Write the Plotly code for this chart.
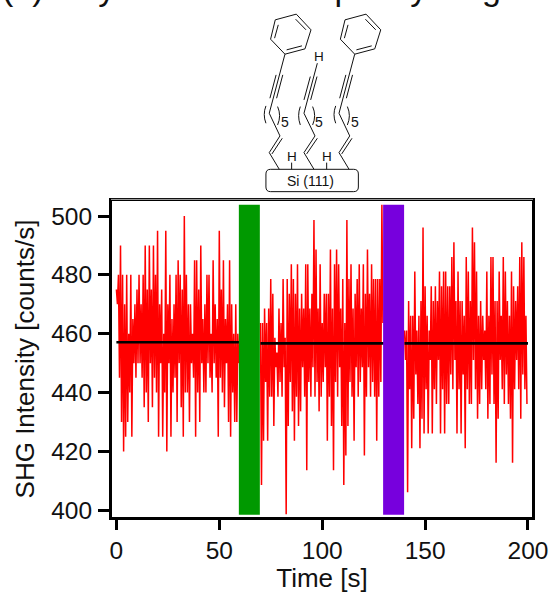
import plotly.graph_objects as go

# --- data: per second, the upper and lower reading ---
seg1_start = 0
seg1_high = [475,480,490,480,470,480,460,480,465,470,
             475,480,470,480,490,475,490,475,490,480,
             495,470,475,460,495,470,480,465,470,480,
             485,480,475,500,480,470,470,460,485,485,
             475,490,465,470,480,480,460,485,470,465,
             495,475,485,465,470,485,470,460,470,460]
seg1_low = [470,445,430,420,425,430,440,425,450,445,
            450,450,445,435,440,430,450,435,445,440,
            425,450,425,440,420,450,425,440,445,430,
            450,435,425,440,440,430,450,445,425,440,
            430,450,440,440,450,445,440,450,445,425,
            445,440,435,450,430,425,440,430,430,450]
seg2_start = 70
seg2_high = [463.6,463.6,468.6,463.6,468.6,478.6,473.6,458.6,453.6,468.6,
             463.6,478.6,458.6,478.6,473.6,483.6,478.6,473.6,483.6,468.6,
             473.6,468.6,483.6,483.6,468.6,473.6,498.6,488.6,468.6,483.6,
             463.6,473.6,473.6,473.6,488.6,468.6,483.6,488.6,483.6,468.6,
             478.6,463.6,498.6,478.6,483.6,468.6,473.6,478.6,483.6,468.6,
             483.6,473.6,488.6,473.6,483.6,478.6,478.6,478.6,478.6,503.8]
seg2_low = [408.6,423.6,443.6,423.6,438.6,438.6,428.6,448.6,438.6,443.6,
            438.6,448.6,398.6,428.6,443.6,433.6,423.6,438.6,428.6,433.6,
            448.6,438.6,413.6,443.6,438.6,448.6,438.6,443.6,433.6,438.6,
            443.6,448.6,423.6,438.6,428.6,413.6,443.6,438.6,448.6,428.6,
            408.6,418.6,428.6,443.6,438.6,423.6,448.6,438.6,443.6,448.6,
            418.6,438.6,448.6,438.6,443.6,438.6,423.6,438.6,443.6,463.6]
seg3_start = 140
seg3_high = [461.1,461.1,471.1,466.1,466.1,481.1,461.1,466.1,471.1,496.1,
             476.1,466.1,461.1,476.1,471.1,476.1,471.1,481.1,476.1,481.1,
             481.1,476.1,476.1,486.1,491.1,471.1,481.1,471.1,471.1,466.1,
             486.1,481.1,471.1,496.1,491.1,481.1,466.1,471.1,466.1,461.1,
             481.1,466.1,486.1,486.1,471.1,471.1,481.1,466.1,486.1,481.1,
             471.1,466.1,481.1,476.1,471.1,476.1,486.1,491.1,486.1,466.1]
seg3_low = [451.1,406.1,441.1,421.1,431.1,446.1,436.1,421.1,431.1,426.1,
            441.1,426.1,451.1,426.1,441.1,436.1,451.1,426.1,441.1,426.1,
            436.1,436.1,446.1,441.1,451.1,426.1,441.1,426.1,446.1,421.1,
            441.1,436.1,436.1,451.1,441.1,431.1,436.1,441.1,451.1,441.1,
            431.1,436.1,446.1,436.1,416.1,431.1,451.1,441.1,436.1,446.1,
            436.1,431.1,416.1,441.1,451.1,441.1,431.1,446.1,441.1,436.1]
mean_x = [[0, 60], [70, 130], [140, 200]]
mean_y = [457.1, 456.7, 456.7]
green_band = [59.5, 69.7]
purple_band = [129.6, 139.8]
band_y = [398.5, 503.8]
x_ticks = [0, 50, 100, 150, 200]
y_ticks = [400, 420, 440, 460, 480, 500]
x_title = "Time [s]"
y_title = "SHG Intensity [counts/s]"
page_title = "(b) Alkyne-terminated phenyl rings"

FONT = "Liberation Sans"
W, H = 550, 593
L, R, T, B = 112.3, 531.7, 201.0, 516.7

def px(x, y):
    return (x - L) / (R - L), (B - y) / (B - T)

def z(x, y):
    """Position in the molecule sketch -> paper coordinates."""
    return px(230 + x / 3, 10 + y / 3)

def path(*pts):
    return "M " + " L ".join("%.4f %.4f" % z(*p) for p in pts)

def curve(a, c, b):
    pa, pc, pb = z(*a), z(*c), z(*b)
    return "M %.4f %.4f Q %.4f %.4f %.4f %.4f" % (*pa, *pc, *pb)

fig = go.Figure()
for start, hi, lo in [(seg1_start, seg1_high, seg1_low),
                      (seg2_start, seg2_high, seg2_low),
                      (seg3_start, seg3_high, seg3_low)]:
    xs, ys = [], []
    for i, (a, b) in enumerate(zip(hi, lo)):
        xs += [start + i, start + i + 0.5]
        ys += [a, b]
    fig.add_trace(go.Scatter(x=xs, y=ys, mode="lines", showlegend=False,
                             line=dict(color="#ff0000", width=1.5)))
for xr, yv in zip(mean_x, mean_y):
    fig.add_trace(go.Scatter(x=xr, y=[yv, yv], mode="lines", showlegend=False,
                             line=dict(color="#000000", width=2.6)))

shapes = [
    dict(type="rect", xref="x", yref="y", x0=green_band[0], x1=green_band[1],
         y0=band_y[0], y1=band_y[1], fillcolor="#009900", line_width=0, layer="above"),
    dict(type="rect", xref="x", yref="y", x0=purple_band[0], x1=purple_band[1],
         y0=band_y[0], y1=band_y[1], fillcolor="#7700dd", line_width=0, layer="above"),
]
mol = []
for dx in (0, 209):
    mol.append(path((136+dx,30),(199+dx,13),(243+dx,60),(225+dx,117),(165+dx,133),(122+dx,88),(136+dx,30)))
    mol.append(path((145+dx,45),(134+dx,85)))
    mol.append(path((197+dx,28),(228+dx,60)))
    mol.append(path((170+dx,120),(216+dx,108)))
    mol.append(path((165+dx,133),(118+dx,310),(150+dx,378),(118+dx,428),(148+dx,478)))
    mol.append(path((138.5+dx,195),(120+dx,265)))
    mol.append(path((158.5+dx,195),(140+dx,265)))
    mol.append(path((126+dx,432),(157+dx,385)))
    mol.append(curve((108+dx,288),(98+dx,314),(108+dx,340)))
    mol.append(curve((143+dx,290),(155+dx,317),(143+dx,345)))
# middle chain
mol.append(path((262,160),(222,310),(255,378),(222,428),(252,478)))
mol.append(path((241,200),(222,270)))
mol.append(path((261,200),(242,270)))
mol.append(path((230,432),(262,385)))
mol.append(curve((211,290),(201,317),(211,345)))
mol.append(curve((248,290),(260,317),(248,345)))
# Si-H bonds
mol.append(path((185,458),(185,478)))
mol.append(path((290,458),(290,478)))
# surface block
x0, y0 = z(108, 478); x1, y1 = z(385, 545)
cx0, cy0 = z(122, 492); cx1, cy1 = z(371, 531)
mol.append("M %.4f %.4f L %.4f %.4f Q %.4f %.4f %.4f %.4f L %.4f %.4f Q %.4f %.4f %.4f %.4f L %.4f %.4f Q %.4f %.4f %.4f %.4f L %.4f %.4f Q %.4f %.4f %.4f %.4f Z" % (
    cx0, y0, cx1, y0, x1, y0, x1, cy0, x1, cy1, x1, y1, cx1, y1, cx0, y1, x0, y1, x0, cy1, x0, cy0, x0, y0, cx0, y0))
for p in mol:
    shapes.append(dict(type="path", xref="paper", yref="paper", path=p,
                       line=dict(color="#111111", width=1)))
# thin grey edge over the frame
gx0, gy = px(L - 1, 199.4); gx1, _ = px(R + 1, 199.4)
shapes.append(dict(type="line", xref="paper", yref="paper", x0=gx0, x1=gx1, y0=gy, y1=gy,
                   line=dict(color="#aaaaaa", width=1)))

ann = []
for txt, zx, zy, size in [("H", 268, 140, 13.5), ("H", 185, 440, 13.5), ("H", 290, 440, 13.5),
                          ("5", 165, 335, 14), ("5", 268, 335, 14), ("5", 376, 335, 14),
                          ("Si (111)", 243, 513, 14)]:
    ax, ay = z(zx, zy)
    ann.append(dict(text=txt, x=ax, y=ay, xref="paper", yref="paper", showarrow=False,
                    xanchor="center", yanchor="middle", font=dict(family=FONT, size=size, color="#111111")))
tx, ty = px(0, -12)
ann.append(dict(text=page_title, x=tx, y=ty, xref="paper", yref="paper", showarrow=False,
                xanchor="left", yanchor="middle", font=dict(family=FONT, size=34, color="#111111")))

fig.update_layout(
    width=W, height=H, autosize=False, paper_bgcolor="white", plot_bgcolor="white",
    margin=dict(l=L, r=W - R, t=T, b=H - B, pad=0, autoexpand=False),
    showlegend=False, shapes=shapes, annotations=ann,
    font=dict(family=FONT, color="#111111"),
)
fig.update_xaxes(range=[-2.14, 201.95], tickvals=x_ticks, ticks="outside", ticklen=10, tickwidth=2.5,
                 tickcolor="#000000", showline=True, linecolor="#000000", linewidth=3, mirror=True,
                 showgrid=False, zeroline=False, tickfont=dict(size=24.5), ticklabelstandoff=0,
                 automargin=False,
                 title=dict(text=x_title, font=dict(size=26), standoff=6))
fig.update_yaxes(range=[397.7, 505.1], tickvals=y_ticks, ticks="outside", ticklen=11, tickwidth=2.5,
                 tickcolor="#000000", showline=True, linecolor="#000000", linewidth=3, mirror=True,
                 showgrid=False, zeroline=False, tickfont=dict(size=24.5), ticklabelstandoff=1,
                 automargin=False,
                 title=dict(text=y_title, font=dict(size=26), standoff=10))
fig.write_html("out.html", config=dict(displayModeBar=False),
               post_script="document.body.style.margin='0';document.body.style.overflow='hidden';")
